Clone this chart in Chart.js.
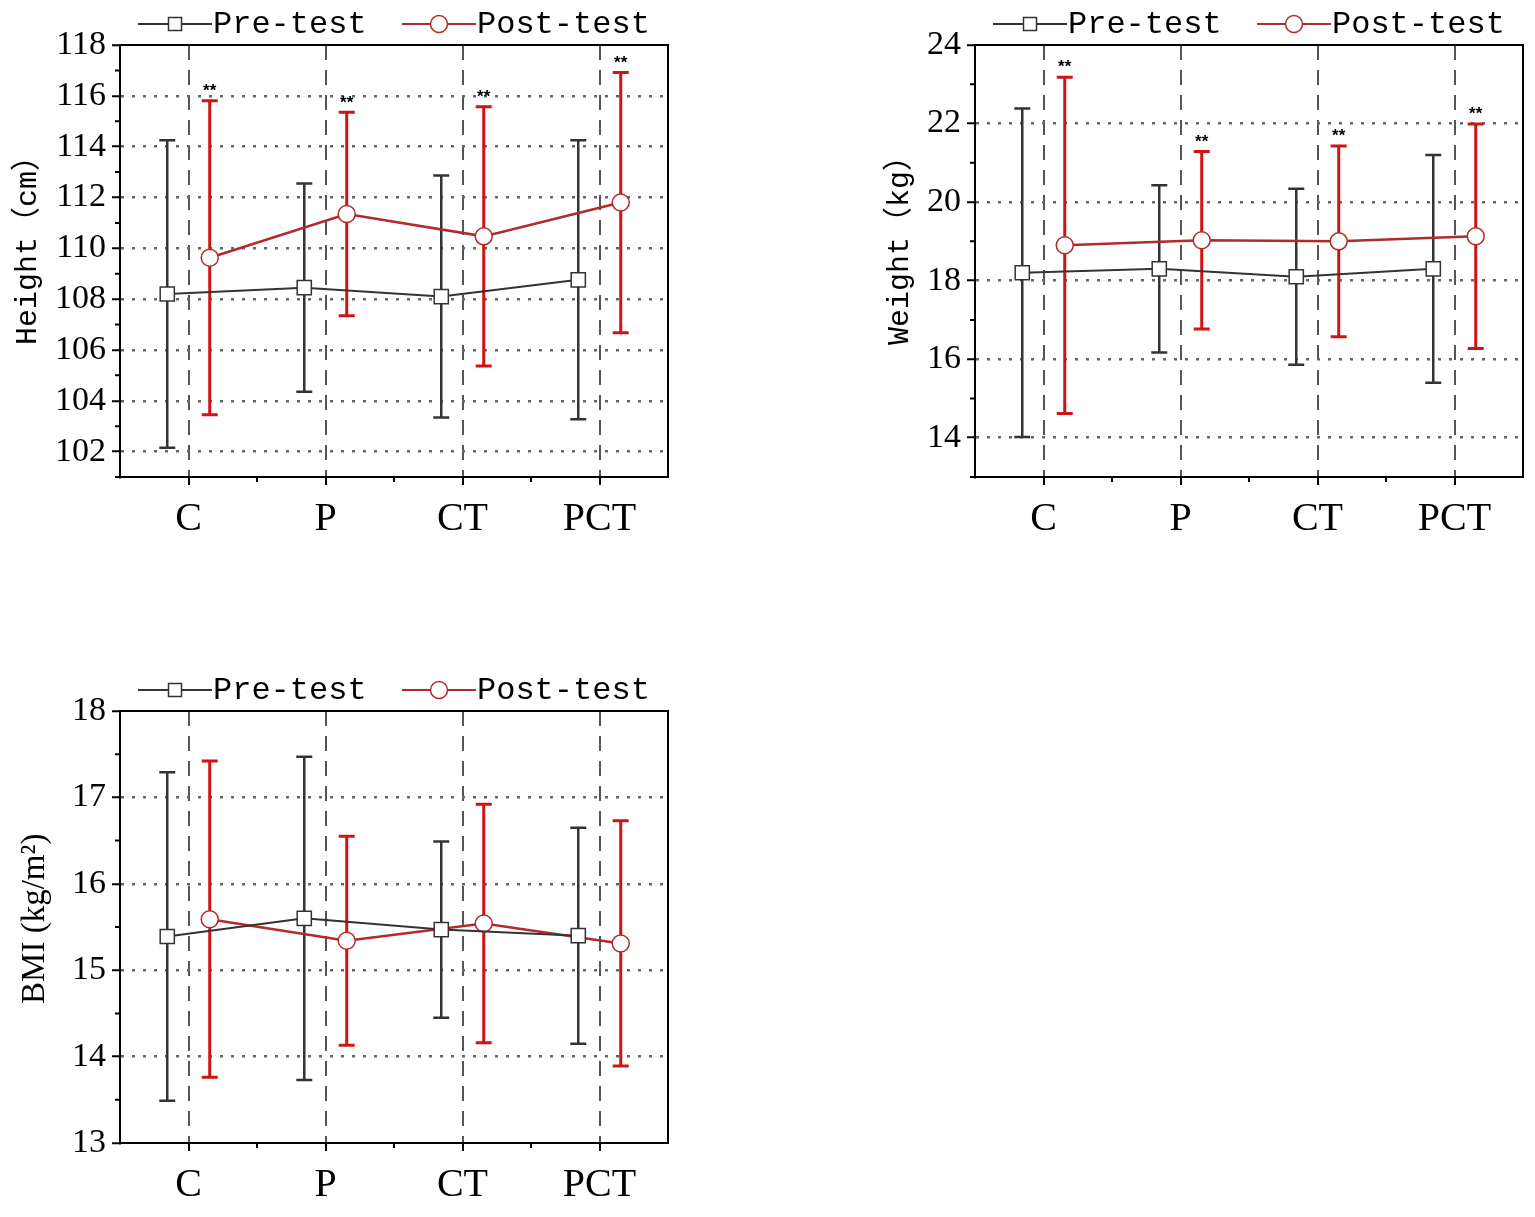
<!DOCTYPE html>
<html>
<head>
<meta charset="utf-8">
<script src="https://cdn.jsdelivr.net/npm/chart.js@4.4.0/dist/chart.umd.min.js"></script>
<style>
body { margin: 0; background: #fff; width: 1535px; height: 1217px; position: relative; overflow: hidden; }
.box { position: absolute; width: 680px; height: 550px; }
</style>
</head>
<body>
<div class="box" style="left:0;top:0"><canvas id="c1" width="680" height="550"></canvas></div>
<div class="box" style="left:855px;top:0"><canvas id="c2" width="680" height="550"></canvas></div>
<div class="box" style="left:0;top:666px"><canvas id="c3" width="680" height="550"></canvas></div>
<script>
// groups on the x axis
const groups = ['C', 'P', 'CT', 'PCT'];

// height (cm), mean and SD
const heightPre = [108.2, 108.45, 108.1, 108.76];
const heightPreSD = [6.05, 4.1, 4.76, 5.49];
const heightPost = [109.63, 111.35, 110.47, 111.8];
const heightPostSD = [6.18, 4.0, 5.1, 5.12];
const heightSig = ['**', '**', '**', '**'];
const heightTicks = [102, 104, 106, 108, 110, 112, 114, 116, 118];

// weight (kg)
const weightPre = [18.2, 18.3, 18.1, 18.3];
const weightPreSD = [4.18, 2.13, 2.24, 2.9];
const weightPost = [18.9, 19.03, 19.0, 19.13];
const weightPostSD = [4.28, 2.26, 2.43, 2.86];
const weightSig = ['**', '**', '**', '**'];
const weightTicks = [14, 16, 18, 20, 22, 24];

// BMI (kg/m2)
const bmiPre = [15.39, 15.6, 15.47, 15.4];
const bmiPreSD = [1.9, 1.87, 1.02, 1.25];
const bmiPost = [15.59, 15.34, 15.54, 15.31];
const bmiPostSD = [1.83, 1.21, 1.38, 1.42];
const bmiSig = ['', '', '', ''];
const bmiTicks = [13, 14, 15, 16, 17, 18];

const preColor = '#333333';
const postLine = '#b22a2a';
const postErr = '#d01414';
const monoCjk = '"Liberation Mono", "Noto Sans CJK SC"';

// error bars, border, minor ticks, legend, stars
const decor = {
    id: 'decor',
    beforeDatasetsDraw(chart) {
        const ctx = chart.ctx, xs = chart.scales.x, ys = chart.scales.y;
        ctx.save();
        chart.data.datasets.forEach(ds => {
            ds.data.forEach((p, i) => {
                const x = xs.getPixelForValue(p.x);
                const top = ys.getPixelForValue(p.y + ds.sd[i]);
                const bot = ys.getPixelForValue(p.y - ds.sd[i]);
                ctx.strokeStyle = ds.errColor;
                ctx.lineWidth = ds.errWidth;
                ctx.beginPath();
                ctx.moveTo(x, top); ctx.lineTo(x, bot);
                ctx.moveTo(x - 8, top); ctx.lineTo(x + 8, top);
                ctx.moveTo(x - 8, bot); ctx.lineTo(x + 8, bot);
                ctx.stroke();
            });
        });
        ctx.restore();
    },
    afterDatasetsDraw(chart, args, opts) {
        const ctx = chart.ctx, xs = chart.scales.x, ys = chart.scales.y;
        const ds = chart.data.datasets[1];
        ctx.save();
        ctx.fillStyle = '#000';
        ctx.font = 'bold 17px "Liberation Sans"';
        ctx.textAlign = 'center';
        ctx.textBaseline = 'bottom';
        opts.sig.forEach((s, i) => {
            if (!s) return;
            const p = ds.data[i];
            ctx.fillText(s, xs.getPixelForValue(p.x), ys.getPixelForValue(p.y + ds.sd[i]) - 1);
        });
        ctx.restore();
    },
    afterDraw(chart, args, opts) {
        const ctx = chart.ctx, a = chart.chartArea, xs = chart.scales.x, ys = chart.scales.y;
        ctx.save();
        ctx.strokeStyle = '#000';
        ctx.lineWidth = 2;
        ctx.strokeRect(a.left, a.top, a.right - a.left, a.bottom - a.top);
        // minor ticks
        ctx.beginPath();
        opts.minorY.forEach(v => {
            const y = ys.getPixelForValue(v);
            ctx.moveTo(a.left - 5, y); ctx.lineTo(a.left, y);
        });
        [1.5, 2.5, 3.5].forEach(v => {
            const x = xs.getPixelForValue(v);
            ctx.moveTo(x, a.bottom); ctx.lineTo(x, a.bottom + 5);
        });
        ctx.stroke();
        // legend
        const L = a.left, yl = a.top - 21;
        const d = chart.data.datasets;
        ctx.font = '32px "Liberation Mono"';
        ctx.textBaseline = 'middle';
        ctx.fillStyle = '#000';
        ctx.lineWidth = 2;
        ctx.strokeStyle = preColor;
        ctx.beginPath(); ctx.moveTo(L + 18, yl); ctx.lineTo(L + 92, yl); ctx.stroke();
        ctx.fillStyle = '#fff'; ctx.lineWidth = 1.5;
        ctx.fillRect(L + 48.5, yl - 6.5, 13, 13);
        ctx.strokeRect(L + 48.5, yl - 6.5, 13, 13);
        ctx.fillStyle = '#000';
        ctx.fillText(d[0].label, L + 93, yl + 1);
        ctx.lineWidth = 2;
        ctx.strokeStyle = postLine;
        ctx.beginPath(); ctx.moveTo(L + 282, yl); ctx.lineTo(L + 356, yl); ctx.stroke();
        ctx.beginPath(); ctx.arc(L + 319, yl, 8.5, 0, Math.PI * 2);
        ctx.fillStyle = '#fff'; ctx.fill(); ctx.lineWidth = 1.5; ctx.stroke();
        ctx.fillStyle = '#000';
        ctx.fillText(d[1].label, L + 357, yl + 1);
        ctx.restore();
    }
};

function makeChart(id, c) {
    const off = 0.155;
    const minorY = [];
    for (let v = c.min; v < c.max + 1e-9; v += c.minor) {
        const r = Math.round(v * 100) / 100;
        if (!c.ticks.includes(r)) minorY.push(r);
    }
    new Chart(document.getElementById(id), {
        type: 'line',
        data: {
            datasets: [{
                label: 'Pre-test',
                data: c.pre.map((v, i) => ({ x: i + 1 - off, y: v })),
                sd: c.preSD, errColor: preColor, errWidth: 2.5,
                borderColor: preColor, borderWidth: 2,
                pointStyle: 'rect', pointRadius: 10,
                pointBackgroundColor: '#fff', pointBorderColor: preColor, pointBorderWidth: 1.5
            }, {
                label: 'Post-test',
                data: c.post.map((v, i) => ({ x: i + 1 + off, y: v })),
                sd: c.postSD, errColor: postErr, errWidth: 3,
                borderColor: postLine, borderWidth: 2.5,
                pointStyle: 'circle', pointRadius: 8.5,
                pointBackgroundColor: '#fff', pointBorderColor: postLine, pointBorderWidth: 1.5
            }]
        },
        options: {
            responsive: false,
            animation: false,
            events: [],
            layout: { padding: { top: 45, right: 12, bottom: 0, left: 0 } },
            plugins: {
                legend: { display: false },
                tooltip: { enabled: false },
                decor: { minorY: minorY, sig: c.sig }
            },
            scales: {
                x: {
                    type: 'linear', min: 0.5, max: 4.5,
                    afterBuildTicks: s => { s.ticks = groups.map((g, i) => ({ value: i + 1 })); },
                    afterFit: s => { s.height = 73; },
                    ticks: {
                        callback: (v, i) => groups[i],
                        font: { family: 'Liberation Serif', size: 40 },
                        color: '#000', padding: 10, maxRotation: 0, autoSkip: false
                    },
                    grid: {
                        color: '#555', lineWidth: 2,
                        tickLength: 8, tickColor: '#000', tickWidth: 2, tickBorderDash: []
                    },
                    border: { color: '#000', width: 2, dash: [15, 10] }
                },
                y: {
                    min: c.min, max: c.max,
                    afterBuildTicks: s => { s.ticks = c.ticks.map(v => ({ value: v })); },
                    afterFit: s => { s.width = 120; },
                    ticks: { font: { family: 'Liberation Serif', size: 34 }, color: '#000', padding: 6 },
                    title: {
                        display: true, text: c.title, color: '#000',
                        font: { family: c.titleFont, size: c.titleSize },
                        padding: { top: c.titlePad, bottom: 0 }
                    },
                    grid: {
                        color: g => (g.tick && (g.tick.value === c.max || g.tick.value === c.min)) ? 'rgba(0,0,0,0)' : '#666',
                        lineWidth: 2.5,
                        tickLength: 8, tickColor: '#000', tickWidth: 2, tickBorderDash: []
                    },
                    border: { color: '#000', width: 2, dash: [3, 8] }
                }
            }
        },
        plugins: [decor]
    });
}

makeChart('c1', {
    title: '  Height（cm）', titleFont: monoCjk, titleSize: 30, titlePad: 10,
    pre: heightPre, preSD: heightPreSD, post: heightPost, postSD: heightPostSD,
    sig: heightSig, ticks: heightTicks, min: 101, max: 118, minor: 1
});
makeChart('c2', {
    title: '  Weight（kg）', titleFont: monoCjk, titleSize: 30, titlePad: 27,
    pre: weightPre, preSD: weightPreSD, post: weightPost, postSD: weightPostSD,
    sig: weightSig, ticks: weightTicks, min: 13, max: 24, minor: 1
});
makeChart('c3', {
    title: '  BMI (kg/m²)', titleFont: 'Liberation Serif', titleSize: 33, titlePad: 16,
    pre: bmiPre, preSD: bmiPreSD, post: bmiPost, postSD: bmiPostSD,
    sig: bmiSig, ticks: bmiTicks, min: 13, max: 18, minor: 0.5
});
</script>
</body>
</html>
